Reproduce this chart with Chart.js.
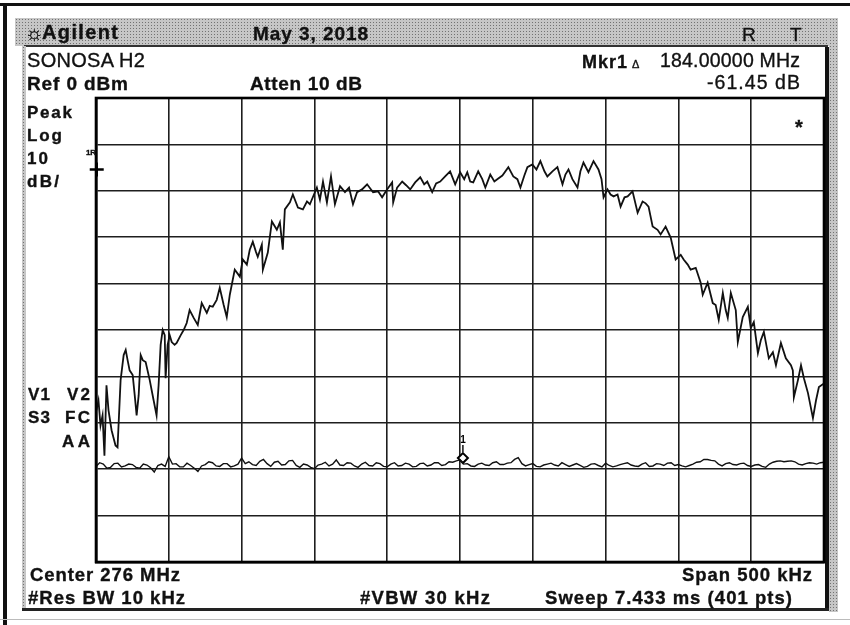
<!DOCTYPE html>
<html lang="en">
<head>
  <meta charset="UTF-8">
  <title>Agilent spectrum - SONOSA H2</title>
  <script src="https://cdn.jsdelivr.net/npm/chart.js"></script>
  <style>
    body {
      margin: 0;
      width: 850px;
      height: 625px;
      background: #fff;
      position: relative;
      overflow: hidden;
      font-family: "Liberation Sans", Arial, sans-serif;
      color: #111;
    }
    .box { position: absolute; }
    .dots {
      background-color: #c6c6c6;
      background-image: radial-gradient(#727272 0.9px, transparent 1px);
      background-size: 3px 3px;
    }
    .t {
      position: absolute;
      white-space: nowrap;
      line-height: 1;
      z-index: 3;
      -webkit-text-stroke: 0.35px #111;
    }
    #c { position: absolute; left: 0; top: 0; z-index: 2; }
  </style>
</head>
<body>
  <!-- paper frame -->
  <div class="box" style="left:0;top:3px;width:850px;height:3px;background:#111"></div>
  <div class="box" style="left:3px;top:3px;width:4px;height:622px;background:#111"></div>
  <div class="box" style="left:0;top:619px;width:850px;height:1px;background:#bbb"></div>
  <!-- instrument panel -->
  <div class="box dots" style="left:15px;top:18px;width:823px;height:28px"></div>
  <div class="box" style="left:24px;top:45px;width:804px;height:2px;background:#333"></div>
  <div class="box dots" style="left:22px;top:46px;width:4px;height:564px"></div>
  <div class="box dots" style="left:829px;top:18px;width:9px;height:594px"></div>
  <div class="box" style="left:825px;top:47px;width:4px;height:563px;background:#111"></div>
  <div class="box" style="left:22px;top:608px;width:807px;height:3px;background:#222"></div>

  <canvas id="c" width="850" height="625"></canvas>

  <script>
    // trace 1: signal, offset from 276 MHz centre in kHz / level in dBm
    const sigFreq = [-249.7,-248.3,-246.9,-245.5,-244.2,-242.8,-241.4,-239.3,-236.6,-235.2,
      -233.1,-231.0,-229.6,-228.3,-226.9,-224.8,-223.4,-222.1,-220.7,-219.3,
      -217.9,-215.9,-213.1,-210.4,-208.4,-207.0,-205.6,-204.2,-202.8,-202.2,
      -200.8,-199.4,-198.0,-196.0,-194.6,-191.8,-189.8,-187.7,-185.7,-182.9,
      -180.1,-177.4,-173.9,-171.9,-169.8,-167.1,-165.0,-162.3,-160.2,-158.1,
      -154.7,-151.2,-149.2,-146.4,-144.4,-142.3,-140.2,-138.9,-136.1,-135.4,
      -132.0,-129.2,-125.8,-123.7,-121.7,-120.3,-116.8,-114.8,-111.3,-107.9,
      -105.1,-103.1,-100.3,-98.3,-96.2,-94.1,-91.4,-88.6,-85.9,-82.4,
      -79.0,-76.2,-73.5,-70.7,-67.3,-63.8,-59.7,-56.3,-53.5,-50.1,
      -46.6,-45.9,-43.2,-39.7,-37.0,-34.2,-30.8,-27.3,-24.6,-22.5,
      -19.1,-16.4,-13.6,-10.2,-6.8,-3.3,0.1,2.9,5.0,7.0,
      9.1,12.5,15.3,17.4,20.8,23.6,25.6,29.1,33.2,36.6,
      39.4,41.5,44.2,46.3,49.7,52.5,55.2,58.0,60.0,63.5,
      66.9,70.4,72.4,74.5,77.2,80.7,82.7,84.8,88.2,91.7,
      95.1,97.2,98.6,101.3,103.4,105.5,108.2,110.3,113.0,115.1,
      118.5,122.0,125.4,127.5,129.5,132.3,135.7,137.8,141.2,144.7,
      148.1,151.6,153.6,156.4,158.4,161.9,165.3,166.7,170.1,173.6,
      175.6,177.7,180.5,182.5,183.9,186.0,189.4,190.8,194.2,197.7,
      199.7,201.8,204.6,206.6,208.7,212.1,214.9,217.0,220.4,223.8,
      227.3,228.6,229.3,232.1,234.2,236.2,239.0,242.4,244.5,246.5,
      250.0];
    const sigLevel = [-67.3,-65.2,-70.6,-68.4,-77.1,-61.9,-67.3,-71.6,-74.9,-75.3,
      -60.8,-55.4,-54.3,-56.5,-58.7,-59.7,-64.1,-68.4,-64.1,-55.4,
      -56.5,-56.9,-60.8,-65.2,-68.4,-61.9,-53.2,-50.0,-51.1,-60.4,
      -53.2,-51.1,-52.6,-53.2,-52.8,-51.1,-50.0,-48.5,-45.7,-47.4,
      -48.9,-44.2,-46.3,-44.8,-45.0,-43.5,-40.9,-44.6,-47.2,-42.4,
      -37.0,-38.5,-34.8,-35.9,-32.7,-31.0,-33.1,-34.2,-31.6,-37.0,
      -33.3,-26.6,-28.4,-26.8,-32.7,-24.0,-22.5,-20.8,-23.6,-24.0,
      -22.3,-22.9,-20.8,-19.3,-21.9,-18.0,-22.5,-16.9,-22.9,-19.0,
      -20.3,-19.3,-22.9,-20.3,-19.7,-18.6,-20.3,-20.1,-21.4,-19.7,
      -18.2,-22.5,-19.3,-18.0,-18.8,-19.7,-18.2,-17.1,-18.6,-18.0,
      -20.3,-18.4,-18.0,-16.9,-15.8,-18.6,-16.0,-17.5,-16.0,-18.0,
      -18.2,-15.8,-17.5,-19.3,-16.5,-18.0,-17.5,-16.7,-14.9,-16.9,
      -17.5,-19.3,-16.7,-14.9,-14.3,-15.4,-13.6,-15.8,-16.9,-15.8,
      -14.9,-18.6,-16.5,-15.4,-17.5,-19.3,-15.8,-13.9,-16.0,-13.6,
      -15.4,-17.5,-21.4,-19.7,-20.8,-21.2,-20.8,-23.4,-21.4,-21.2,
      -20.1,-24.7,-22.3,-22.7,-23.4,-27.7,-28.4,-29.4,-27.7,-30.1,
      -34.8,-33.8,-34.8,-35.9,-37.0,-36.6,-39.8,-42.4,-39.8,-44.2,
      -44.6,-47.8,-42.0,-45.7,-47.4,-42.0,-45.7,-52.6,-47.2,-45.0,
      -49.6,-48.3,-55.0,-52.2,-50.4,-56.1,-54.8,-57.6,-52.8,-56.1,
      -57.6,-58.7,-64.5,-60.8,-57.6,-60.4,-63.6,-69.0,-65.2,-62.3,
      -61.5];

    // trace 2: noise floor, every 2.5 kHz
    const floorFreq = [-250,-247.5,-245,-242.5,-240,-237.5,-235,-232.5,-230,-227.5,
      -225,-222.5,-220,-217.5,-215,-212.5,-210,-207.5,-205,-202.5,
      -200,-197.5,-195,-192.5,-190,-187.5,-185,-182.5,-180,-177.5,
      -175,-172.5,-170,-167.5,-165,-162.5,-160,-157.5,-155,-152.5,
      -150,-147.5,-145,-142.5,-140,-137.5,-135,-132.5,-130,-127.5,
      -125,-122.5,-120,-117.5,-115,-112.5,-110,-107.5,-105,-102.5,
      -100,-97.5,-95,-92.5,-90,-87.5,-85,-82.5,-80,-77.5,
      -75,-72.5,-70,-67.5,-65,-62.5,-60,-57.5,-55,-52.5,
      -50,-47.5,-45,-42.5,-40,-37.5,-35,-32.5,-30,-27.5,
      -25,-22.5,-20,-17.5,-15,-12.5,-10,-7.5,-5,-2.5,
      0,2.5,5,7.5,10,12.5,15,17.5,20,22.5,
      25,27.5,30,32.5,35,37.5,40,42.5,45,47.5,
      50,52.5,55,57.5,60,62.5,65,67.5,70,72.5,
      75,77.5,80,82.5,85,87.5,90,92.5,95,97.5,
      100,102.5,105,107.5,110,112.5,115,117.5,120,122.5,
      125,127.5,130,132.5,135,137.5,140,142.5,145,147.5,
      150,152.5,155,157.5,160,162.5,165,167.5,170,172.5,
      175,177.5,180,182.5,185,187.5,190,192.5,195,197.5,
      200,202.5,205,207.5,210,212.5,215,217.5,220,222.5,
      225,227.5,230,232.5,235,237.5,240,242.5,245,247.5,
      250];
    const floorLevel = [-79.4,-78.6,-78.9,-79.8,-79.6,-78.8,-78.7,-79.5,-79.3,-78.9,
      -79.0,-79.6,-79.8,-78.9,-79.1,-79.7,-80.6,-79.2,-78.9,-79.4,
      -77.3,-78.9,-78.8,-79.5,-79.5,-78.7,-79.2,-79.8,-80.5,-79.3,
      -79.0,-78.4,-78.6,-79.3,-79.4,-78.8,-78.8,-79.5,-79.3,-78.9,
      -77.6,-78.8,-78.4,-79.0,-79.2,-78.3,-77.9,-78.8,-79.4,-78.5,
      -78.3,-79.1,-79.0,-78.2,-78.1,-79.2,-79.6,-78.9,-79.1,-79.6,
      -79.9,-79.1,-78.9,-78.5,-79.3,-78.9,-78.0,-79.1,-79.2,-78.6,
      -78.7,-79.3,-79.6,-78.9,-78.5,-79.2,-79.3,-78.6,-78.8,-79.4,
      -79.5,-78.9,-78.6,-79.3,-79.2,-78.7,-78.9,-79.5,-79.4,-78.8,
      -78.7,-79.3,-79.1,-78.6,-78.6,-79.2,-79.0,-78.4,-78.5,-78.2,
      -78.0,-78.9,-78.8,-79.3,-79.4,-78.9,-78.7,-79.1,-79.2,-78.6,
      -78.4,-79.0,-79.0,-78.7,-78.6,-77.9,-77.5,-78.8,-79.3,-79.0,
      -78.8,-79.4,-79.5,-79.1,-78.9,-78.7,-79.1,-79.3,-78.6,-79.0,
      -79.4,-79.1,-78.8,-79.2,-79.6,-79.4,-78.9,-78.8,-79.2,-79.5,
      -78.7,-79.2,-79.5,-79.3,-79.0,-78.8,-78.6,-79.1,-79.3,-79.4,
      -78.9,-78.6,-79.4,-79.3,-78.8,-78.9,-79.2,-78.7,-78.6,-79.2,
      -79.0,-79.3,-79.5,-79.2,-78.9,-78.5,-78.4,-77.9,-77.9,-78.1,
      -78.2,-78.9,-79.3,-78.8,-78.6,-79.0,-79.1,-78.8,-78.7,-79.2,
      -79.4,-79.1,-79.0,-79.4,-79.6,-78.9,-78.5,-78.3,-78.2,-78.4,
      -78.3,-78.2,-78.4,-78.9,-79.1,-78.8,-78.6,-78.7,-78.9,-78.6,
      -78.5];

    // markers: 1R reference and delta marker 1
    const refMkrFreq = [-249.5];
    const refMkrLevel = [-15.4];
    const deltaMkrFreq = [2];
    const deltaMkrLevel = [-77.6];

    const xTicks = { min: -250, max: 250, step: 50 };   // 50 kHz/div
    const yTicks = { min: -100, max: 0, step: 10 };     // 10 dB/div

    const pts = (xs, ys) => xs.map((x, i) => ({ x: x, y: ys[i] }));

    // frame around the graticule and the "1" above the delta marker
    const screenDeco = {
      id: 'screenDeco',
      afterDraw(chart) {
        const { ctx, chartArea: a } = chart;
        ctx.save();
        ctx.strokeStyle = '#000';
        ctx.lineWidth = 2.6;
        ctx.strokeRect(a.left, a.top, a.right - a.left, a.bottom - a.top);
        const p = chart.getDatasetMeta(3).data[0];
        ctx.lineWidth = 1.4;
        ctx.beginPath();
        ctx.moveTo(p.x, p.y - 13);
        ctx.lineTo(p.x, p.y - 6);
        ctx.stroke();
        ctx.fillStyle = '#000';
        ctx.font = 'bold 10px "Liberation Sans", Arial';
        ctx.textAlign = 'center';
        ctx.fillText('1', p.x, p.y - 15);
        ctx.restore();
      }
    };

    const gridStyle = { color: '#1e1e1e', lineWidth: 1.6, drawTicks: false };

    new Chart(document.getElementById('c'), {
      type: 'line',
      data: {
        datasets: [
          { data: pts(sigFreq, sigLevel), borderColor: '#111', borderWidth: 1.8, pointRadius: 0, tension: 0 },
          { data: pts(floorFreq, floorLevel), borderColor: '#111', borderWidth: 1.4, pointRadius: 0, tension: 0 },
          { data: pts(refMkrFreq, refMkrLevel), showLine: false, pointStyle: 'cross', pointRadius: 7,
            borderColor: '#000', borderWidth: 2.5, clip: false },
          { data: pts(deltaMkrFreq, deltaMkrLevel), showLine: false, pointStyle: 'rectRot', pointRadius: 5,
            borderColor: '#000', backgroundColor: '#fff', borderWidth: 2 }
        ]
      },
      options: {
        responsive: false,
        animation: false,
        devicePixelRatio: 1,
        layout: { padding: { left: 96, top: 98, right: 26, bottom: 63 } },
        plugins: { legend: { display: false }, tooltip: { enabled: false } },
        scales: {
          x: {
            type: 'linear', min: xTicks.min, max: xTicks.max,
            ticks: { display: false, stepSize: xTicks.step },
            grid: gridStyle,
            border: { color: '#000', width: 2.6 }
          },
          y: {
            type: 'linear', min: yTicks.min, max: yTicks.max,
            ticks: { display: false, stepSize: yTicks.step },
            grid: gridStyle,
            border: { color: '#000', width: 2.6 }
          }
        }
      },
      plugins: [screenDeco]
    });

    // annotation text: [text, x, baseline, size, weight, width, align]
    const labels = [
      ['\u263C', 25, 40, 20, 'bold', 14, 'left'],
      ['Agilent', 42, 39, 20, 'bold', 76, 'left'],
      ['May 3, 2018', 253, 40, 19, 'bold', 115, 'left'],
      ['R', 742, 41, 19, 'normal', 13, 'left'],
      ['T', 790, 41, 19, 'normal', 13, 'left'],
      ['SONOSA H2', 27, 67, 20, 'normal', 118, 'left'],
      ['Ref 0 dBm', 27, 90, 19, 'bold', 101, 'left'],
      ['Atten 10 dB', 250, 90, 19, 'bold', 112, 'left'],
      ['Mkr1', 582, 68, 18, 'bold', 45, 'left'],
      ['\u0394', 632, 68, 11, 'normal', 9, 'left'],
      ['184.00000 MHz', 800, 68, 19.5, 'normal', 140, 'right'],
      ['-61.45 dB', 800, 90, 19.5, 'normal', 93, 'right'],
      ['Peak', 27, 118, 17, 'bold', 45, 'left'],
      ['Log', 27, 141, 17, 'bold', 35, 'left'],
      ['10', 27, 164, 17, 'bold', 21, 'left'],
      ['dB/', 27, 187, 17, 'bold', 32, 'left'],
      ['1R', 86, 156, 8, 'bold', 10, 'left'],
      ['*', 795, 134, 20, 'bold', 10, 'left'],
      ['V1', 28, 400, 17, 'bold', 22, 'left'],
      ['V2', 90, 400, 17, 'bold', 23, 'right'],
      ['S3', 28, 423, 17, 'bold', 22, 'left'],
      ['FC', 90, 423, 17, 'bold', 25, 'right'],
      ['AA', 90, 447, 17, 'bold', 28, 'right'],
      ['Center 276 MHz', 30, 582, 18.5, 'bold', 150, 'left'],
      ['Span 500 kHz', 812, 582, 18.5, 'bold', 130, 'right'],
      ['#Res BW 10 kHz', 28, 605, 18.5, 'bold', 157, 'left'],
      ['#VBW 30 kHz', 360, 605, 18.5, 'bold', 130, 'left'],
      ['Sweep 7.433 ms (401 pts)', 545, 605, 18.5, 'bold', 247, 'left']
    ];

    labels.forEach(([txt, x, base, size, weight, width, align]) => {
      const el = document.createElement('div');
      el.className = 't';
      el.textContent = txt;
      el.style.fontSize = size + 'px';
      el.style.fontWeight = weight;
      el.style.top = (base - 0.847 * size) + 'px';
      document.body.appendChild(el);
      const natural = el.getBoundingClientRect().width;
      const n = txt.length;
      const ls = n > 1 ? (width - natural) / (n - 1) : 0;
      el.style.letterSpacing = ls + 'px';
      el.style.left = (align === 'right' ? x - width : x) + 'px';
    });
  </script>
</body>
</html>
